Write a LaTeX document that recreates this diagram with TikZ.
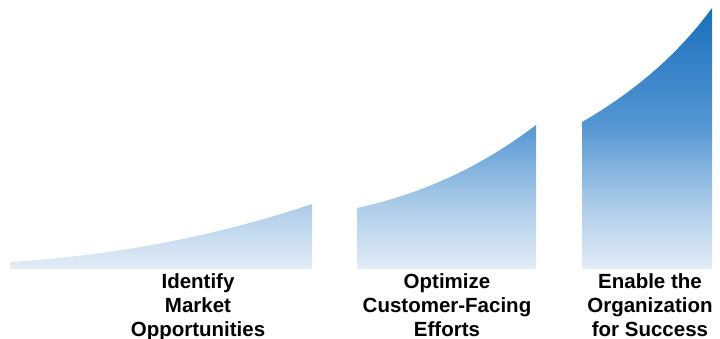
\documentclass[tikz,border=0pt]{standalone}
\usepackage{fontspec}
\setmainfont{Liberation Sans}
\definecolor{cTop}{HTML}{1A6FBC}
\definecolor{cMid}{HTML}{5496D3}
\definecolor{cLow}{HTML}{ABCBE8}
\definecolor{cBot}{HTML}{E4EDF7}
\pgfdeclareverticalshading{riseshade}{100bp}{color(0bp)=(cBot); color(25bp)=(cBot); color(37.6bp)=(cLow); color(52.7bp)=(cMid); color(75bp)=(cTop); color(100bp)=(cTop)}
\tikzset{
  rise/.style={shading=riseshade},
  label/.style={anchor=north, inner sep=0pt, align=center,
    font=\bfseries\fontsize{20.5}{24}\selectfont, text=black}
}
\begin{document}
\begin{tikzpicture}[x=1pt,y=-1pt]
\useasboundingbox (0,0) rectangle (720,339);
% shape 1
\begin{scope}
  \clip (10,269) -- (10,262) .. controls (120,255) and (220,235) .. (312,204) -- (312,269) -- cycle;
  \shade[rise] (0,8) rectangle (720,270);
\end{scope}
% shape 2
\begin{scope}
  \clip (357,269) -- (357,208) .. controls (417,195) and (477,170) .. (536,125) -- (536,269) -- cycle;
  \shade[rise] (0,8) rectangle (720,270);
\end{scope}
% shape 3
\begin{scope}
  \clip (582,269) -- (582,122) .. controls (627,96) and (674,60) .. (712,8) -- (712,269) -- cycle;
  \shade[rise] (0,8) rectangle (720,270);
\end{scope}
\node[label] (l1) at (198,273) {Identify\\Market\\Opportunities};
\node[label] (l2) at (447,273) {Optimize\\Customer-Facing\\Efforts};
\node[label] (l3) at (650,273) {Enable the\\Organization\\for Success};
\end{tikzpicture}
\end{document}
